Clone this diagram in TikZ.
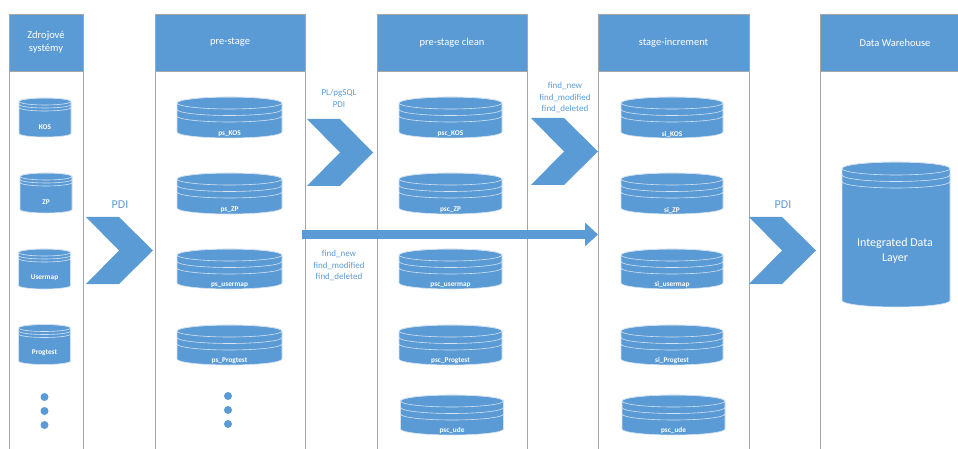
\documentclass[tikz,border=0pt]{standalone}
\usepackage{fontspec}
\setmainfont{Carlito}
\usetikzlibrary{arrows.meta}
\definecolor{office}{HTML}{5B9BD5}
\definecolor{lanegray}{HTML}{A6A6A6}
\definecolor{rimline}{HTML}{D4E2F1}

\tikzset{
  lane/.style={draw=lanegray, line width=1.2pt, fill=white, anchor=north west, inner sep=0pt},
  headbox/.style={draw=lanegray, line width=1.2pt, fill=office, anchor=north west, inner sep=0pt, minimum height=57},
  headtxt/.style={text=white, align=center, font=\fontsize{10.5}{13}\selectfont},
  flowlbl/.style={text=office, align=center, font=\fontsize{9}{11.5}\selectfont},
  pdilbl/.style={text=office, font=\fontsize{12}{14}\selectfont},
  dblbl/.style={text=white, inner sep=0pt, font=\fontsize{7.3}{9}\selectfont\bfseries},
  bigdblbl/.style={text=white, align=center, font=\fontsize{12}{15}\selectfont},
  dotmark/.style={circle, fill=office, inner sep=0pt, minimum size=8},
  dbbody/.style={fill=office, draw=rimline, line width=0.6pt},
  dbrim/.style={draw=rimline, line width=0.6pt},
  longflow/.style={draw=office, line width=9pt, -{Triangle[length=13pt, width=23pt]}},
  % stacked database disk: x radius / y radius / body height / ring spacing
  pics/dbdisk/.style n args={4}{code={
    \path[dbbody] (-#1,0) -- (-#1,#3)
      arc[start angle=180, end angle=0, x radius=#1, y radius=#2]
      -- (#1,0) arc[start angle=0, end angle=-180, x radius=#1, y radius=#2] -- cycle;
    \draw[dbrim] (0,0) ellipse[x radius=#1, y radius=#2];
    \draw[dbrim] (-#1,#4) arc[start angle=180, end angle=0, x radius=#1, y radius=#2];
    \draw[dbrim] (-#1,2*#4) arc[start angle=180, end angle=0, x radius=#1, y radius=#2];
  }},
  % chevron arrow: width / height / notch depth
  pics/chevron/.style n args={3}{code={
    \fill[office] (0,0) -- (#3,0) -- (#1,#2/2) -- (#3,#2) -- (0,#2) -- (#3,#2/2) -- cycle;
  }}
}

\begin{document}
\begin{tikzpicture}[x=1pt, y=-1pt]
\useasboundingbox (0,0) rectangle (958,449);
\clip (0,0) rectangle (958,449);

% swim lanes
\node[lane, minimum width=74,  minimum height=460] (lane1) at (9,14) {};
\node[lane, minimum width=150, minimum height=460] (lane2) at (155,14) {};
\node[lane, minimum width=150, minimum height=460] (lane3) at (377,14) {};
\node[lane, minimum width=151, minimum height=460] (lane4) at (598,14) {};
\node[lane, minimum width=170, minimum height=460] (lane5) at (820,14) {};

% lane headers
\node[headbox, minimum width=74]  (head1) at (9,14) {};
\node[headbox, minimum width=150] (head2) at (155,14) {};
\node[headbox, minimum width=150] (head3) at (377,14) {};
\node[headbox, minimum width=151] (head4) at (598,14) {};
\node[headbox, minimum width=170] (head5) at (820,14) {};
\node[headtxt] (title1) at (46,42.5) {Zdrojové\\systémy};
\node[headtxt] (title2) at (230,42.5) {pre-stage};
\node[headtxt] (title3) at (452,42.5) {pre-stage clean};
\node[headtxt] (title4) at (673.5,42.5) {stage-increment};
\node[headtxt] (title5) at (895,42.5) {Data Warehouse};

% source systems
\pic (srcKOS) at (45,101.5) {dbdisk={26}{3.5}{32}{3}};
\pic (srcZP) at (46,176.5) {dbdisk={26}{3.5}{33}{3}};
\pic (srcUser) at (44.5,252.5) {dbdisk={26}{3.5}{33}{3}};
\pic (srcProg) at (44.5,328) {dbdisk={26}{3.5}{33}{3}};
\node[dblbl] (lblKOS) at (45,127) {KOS};
\node[dblbl] (lblZP) at (46,202) {ZP};
\node[dblbl] (lblUser) at (44.5,278) {Usermap};
\node[dblbl] (lblProg) at (44.5,353) {Progtest};
\node[dotmark] (srcdot1) at (44.5,397) {};
\node[dotmark] (srcdot2) at (44.5,411) {};
\node[dotmark] (srcdot3) at (44.5,425) {};

% pre-stage
\pic (psKOS) at (229.5,103) {dbdisk={52.5}{6}{29}{6.5}};
\pic (psZP) at (229.5,179) {dbdisk={52.5}{6}{29}{6.5}};
\pic (psUser) at (229.5,255) {dbdisk={52.5}{6}{28}{6.5}};
\pic (psProg) at (229.5,331) {dbdisk={52.5}{6}{28}{6.5}};
\node[dblbl] (lblpsKOS) at (229.5,134) {ps\_KOS};
\node[dblbl] (lblpsZP) at (229.5,210) {ps\_ZP};
\node[dblbl] (lblpsUser) at (229.5,285) {ps\_usermap};
\node[dblbl] (lblpsProg) at (229.5,361) {ps\_Progtest};
\node[dotmark] (psdot1) at (228,396) {};
\node[dotmark] (psdot2) at (228,410) {};
\node[dotmark] (psdot3) at (228,424) {};

% pre-stage clean
\pic (pscKOS) at (450.5,103) {dbdisk={51.5}{6}{29}{6.5}};
\pic (pscZP) at (450.5,179) {dbdisk={51.5}{6}{29}{6.5}};
\pic (pscUser) at (450.5,255) {dbdisk={51.5}{6}{28}{6.5}};
\pic (pscProg) at (450.5,331) {dbdisk={51.5}{6}{28}{6.5}};
\pic (pscUde) at (452,401) {dbdisk={51.5}{6}{28}{6.5}};
\node[dblbl] (lblpscKOS) at (450.5,134) {psc\_KOS};
\node[dblbl] (lblpscZP) at (450.5,210) {psc\_ZP};
\node[dblbl] (lblpscUser) at (450.5,285) {psc\_usermap};
\node[dblbl] (lblpscProg) at (450.5,361) {psc\_Progtest};
\node[dblbl] (lblpscUde) at (452,431) {psc\_ude};

% stage-increment
\pic (siKOS) at (672,103) {dbdisk={51}{6}{29}{6.5}};
\pic (siZP) at (672,179) {dbdisk={51}{6}{29}{6.5}};
\pic (siUser) at (672,255) {dbdisk={51}{6}{28}{6.5}};
\pic (siProg) at (672,331) {dbdisk={51}{6}{28}{6.5}};
\pic (siUde) at (673.5,401) {dbdisk={51.5}{6}{28}{6.5}};
\node[dblbl] (lblsiKOS) at (672,134) {si\_KOS};
\node[dblbl] (lblsiZP) at (672,210) {si\_ZP};
\node[dblbl] (lblsiUser) at (672,285) {si\_usermap};
\node[dblbl] (lblsiProg) at (672,361) {si\_Progtest};
\node[dblbl] (lblsiUde) at (673.5,431) {psc\_ude};

% data warehouse
\pic (idl) at (896,168.5) {dbdisk={54}{6.5}{132}{6.5}};
\node[bigdblbl] (lblidl) at (895,250.5) {Integrated Data\\Layer};

% transfers between lanes
\pic (flow1) at (86,217) {chevron={67}{67}{33}};
\pic (flow2) at (307,119) {chevron={66}{67}{33}};
\pic (flow3) at (531,118) {chevron={67}{67}{33}};
\pic (flow4) at (749,217) {chevron={67}{67}{33}};
\node[pdilbl] (lblflow1) at (120,205) {PDI};
\node[flowlbl] (lblflow2) at (339,98.5) {PL/pgSQL\\PDI};
\node[flowlbl] (lblflow3) at (565,97.5) {find\_new\\find\_modified\\find\_deleted};
\node[pdilbl] (lblflow4) at (783,205) {PDI};

\coordinate (bypassfrom) at (302,234.5);
\coordinate (bypassto) at (598,234.5);
\draw[longflow] (bypassfrom) -- (bypassto);
\node[flowlbl] (lblbypass) at (339,265.5) {find\_new\\find\_modified\\find\_deleted};
\end{tikzpicture}
\end{document}
